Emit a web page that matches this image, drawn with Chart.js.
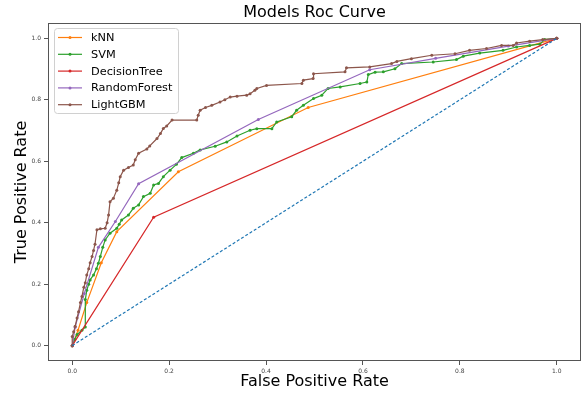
<!DOCTYPE html>
<html>
<head>
<meta charset="utf-8">
<script src="https://cdn.jsdelivr.net/npm/chart.js@4.4.0/dist/chart.umd.min.js"></script>
<style>
  html, body { margin: 0; padding: 0; background: #fff; overflow: hidden; }
  #wrap { width: 581px; height: 394px; }
</style>
</head>
<body>
<div id="wrap"><canvas id="roc"></canvas></div>
<script>
// ===== data =====
const knnFpr = [0, 0.012, 0.03, 0.06, 0.092, 0.219, 0.487, 1];
const knnTpr = [0, 0.05, 0.14, 0.27, 0.371, 0.566, 0.775, 1];

const svmFpr = [0, 0.005, 0.01, 0.02, 0.027, 0.027, 0.03, 0.034, 0.037, 0.044, 0.05, 0.054, 0.058, 0.063, 0.068, 0.078, 0.092, 0.097, 0.102, 0.116, 0.126, 0.137, 0.147, 0.161, 0.168, 0.178, 0.188, 0.202, 0.215, 0.226, 0.25, 0.264, 0.295, 0.319, 0.34, 0.367, 0.381, 0.412, 0.422, 0.453, 0.463, 0.477, 0.498, 0.515, 0.528, 0.553, 0.594, 0.608, 0.611, 0.625, 0.642, 0.666, 0.68, 0.745, 0.793, 0.807, 0.841, 0.889, 0.917, 0.944, 0.965, 0.975, 1];
const svmTpr = [0, 0.02, 0.036, 0.05, 0.061, 0.15, 0.18, 0.2, 0.214, 0.23, 0.25, 0.268, 0.29, 0.32, 0.344, 0.366, 0.382, 0.395, 0.409, 0.425, 0.447, 0.458, 0.485, 0.496, 0.523, 0.528, 0.55, 0.571, 0.59, 0.612, 0.626, 0.637, 0.649, 0.663, 0.682, 0.701, 0.706, 0.706, 0.728, 0.745, 0.766, 0.782, 0.804, 0.815, 0.837, 0.842, 0.853, 0.858, 0.882, 0.89, 0.891, 0.901, 0.918, 0.923, 0.931, 0.942, 0.952, 0.961, 0.972, 0.977, 0.981, 0.996, 1];

const dtFpr = [0, 0.168, 1];
const dtTpr = [0, 0.418, 1];

const rfFpr = [0, 0.006, 0.025, 0.054, 0.089, 0.137, 0.384, 0.614, 0.75, 0.9, 1];
const rfTpr = [0, 0.06, 0.17, 0.32, 0.404, 0.527, 0.736, 0.898, 0.935, 0.975, 1];

const lgbFpr = [0, 0, 0.003, 0.006, 0.01, 0.013, 0.017, 0.02, 0.024, 0.027, 0.03, 0.034, 0.037, 0.041, 0.044, 0.047, 0.051, 0.058, 0.068, 0.072, 0.075, 0.078, 0.085, 0.092, 0.096, 0.099, 0.106, 0.116, 0.126, 0.13, 0.137, 0.154, 0.16, 0.175, 0.182, 0.188, 0.195, 0.206, 0.257, 0.26, 0.264, 0.275, 0.288, 0.305, 0.315, 0.326, 0.34, 0.36, 0.367, 0.377, 0.381, 0.401, 0.474, 0.477, 0.497, 0.498, 0.563, 0.566, 0.614, 0.659, 0.67, 0.7, 0.742, 0.79, 0.82, 0.855, 0.886, 0.91, 0.917, 0.944, 0.971, 1];
const lgbTpr = [0, 0.03, 0.045, 0.063, 0.09, 0.11, 0.14, 0.16, 0.19, 0.205, 0.23, 0.25, 0.27, 0.29, 0.31, 0.33, 0.377, 0.38, 0.382, 0.4, 0.425, 0.468, 0.48, 0.506, 0.53, 0.55, 0.571, 0.58, 0.588, 0.605, 0.626, 0.64, 0.65, 0.674, 0.69, 0.707, 0.715, 0.734, 0.734, 0.75, 0.766, 0.775, 0.782, 0.793, 0.8, 0.809, 0.812, 0.815, 0.82, 0.831, 0.837, 0.847, 0.853, 0.864, 0.869, 0.885, 0.891, 0.904, 0.907, 0.918, 0.925, 0.934, 0.945, 0.95, 0.961, 0.967, 0.977, 0.977, 0.985, 0.991, 0.996, 1];

const diagFpr = [0, 1];
const diagTpr = [0, 1];

const modelNames = ["kNN", "SVM", "DecisionTree", "RandomForest", "LightGBM"];
const modelColors = ["#ff7f0e", "#2ca02c", "#d62728", "#9467bd", "#8c564b"];
const tickValues = [0, 0.2, 0.4, 0.6, 0.8, 1.0];

// ===== helpers =====
function toPoints(xs, ys) {
  return xs.map((x, i) => ({ x: x, y: ys[i] }));
}

const FONT = "'DejaVu Sans', sans-serif";
const curves = [[knnFpr, knnTpr], [svmFpr, svmTpr], [dtFpr, dtTpr], [rfFpr, rfTpr], [lgbFpr, lgbTpr]];

const datasets = curves.map((c, i) => ({
  label: modelNames[i],
  data: toPoints(c[0], c[1]),
  showLine: true,
  borderColor: modelColors[i],
  backgroundColor: modelColors[i],
  borderWidth: 1.2,
  pointRadius: 1.5,
  pointBorderWidth: 0,
  order: 10 - i
}));

datasets.push({
  label: "diag",
  data: toPoints(diagFpr, diagTpr),
  showLine: true,
  borderColor: "#1f77b4",
  borderWidth: 1.2,
  borderDash: [3, 2],
  pointRadius: 0,
  order: 0
});

// box around the plot area (matplotlib spines)
const frame = {
  id: "frame",
  afterDraw(chart) {
    const a = chart.chartArea, ctx = chart.ctx;
    ctx.save();
    ctx.strokeStyle = "#555";
    ctx.lineWidth = 1;
    ctx.strokeRect(a.left + 0.5, a.top + 0.5, a.right - a.left - 1, a.bottom - a.top - 1);
    ctx.restore();
  }
};

// legend inside the plot, upper left
const innerLegend = {
  id: "innerLegend",
  afterDraw(chart) {
    const ctx = chart.ctx;
    const bx = 54, by = 28, bw = 124, bh = 85;
    ctx.save();
    ctx.fillStyle = "rgba(255,255,255,0.85)";
    ctx.strokeStyle = "#d0d0d0";
    ctx.lineWidth = 1;
    ctx.beginPath();
    ctx.roundRect(bx + 0.5, by + 0.5, bw, bh, 3);
    ctx.fill();
    ctx.stroke();
    ctx.font = "11.3px " + FONT;
    ctx.textBaseline = "middle";
    modelNames.forEach((name, i) => {
      const y = 37.5 + i * 16.8;
      ctx.strokeStyle = modelColors[i];
      ctx.lineWidth = 1.2;
      ctx.beginPath();
      ctx.moveTo(58, y);
      ctx.lineTo(82, y);
      ctx.stroke();
      ctx.fillStyle = modelColors[i];
      ctx.beginPath();
      ctx.arc(70, y, 1.5, 0, Math.PI * 2);
      ctx.fill();
      ctx.fillStyle = "#000";
      ctx.fillText(name, 91, y + 0.5);
    });
    ctx.restore();
  }
};

function setTicks(scale) {
  scale.ticks = tickValues.map(v => ({ value: v }));
}

new Chart(document.getElementById("roc"), {
  type: "scatter",
  data: { datasets: datasets },
  options: {
    responsive: true,
    maintainAspectRatio: false,
    animation: false,
    // no extra room for point overflow, the plot runs to the right edge
    layout: { autoPadding: false, padding: 0 },
    plugins: {
      legend: { display: false },
      tooltip: { enabled: false },
      title: {
        display: true,
        text: "Models Roc Curve",
        fullSize: false,
        color: "#000",
        font: { family: FONT, size: 16, weight: "normal" },
        padding: { top: 3.5, bottom: 0.3 }
      }
    },
    scales: {
      x: {
        type: "linear",
        min: -0.05,
        max: 1.05,
        afterBuildTicks: setTicks,
        afterFit: s => { s.height = 33; s.paddingLeft = 0; s.paddingRight = 0; },
        grid: { drawOnChartArea: false, tickLength: 4, color: "#555" },
        border: { display: false },
        ticks: {
          color: "#444",
          padding: 3,
          maxRotation: 0,
          font: { family: FONT, size: 6 },
          callback: v => Number(v).toFixed(1)
        },
        title: {
          display: true,
          text: "False Positive Rate",
          color: "#000",
          font: { family: FONT, size: 16 },
          padding: { top: 0, bottom: 2.5 }
        }
      },
      y: {
        type: "linear",
        min: -0.05,
        max: 1.05,
        afterBuildTicks: setTicks,
        afterFit: s => { s.width = 48; },
        grid: { drawOnChartArea: false, tickLength: 4, color: "#555" },
        border: { display: false },
        ticks: {
          color: "#444",
          padding: 3,
          font: { family: FONT, size: 6 },
          callback: v => Number(v).toFixed(1)
        },
        title: {
          display: true,
          text: "True Positive Rate",
          color: "#000",
          font: { family: FONT, size: 16 },
          padding: { top: 12.5, bottom: 0 }
        }
      }
    }
  },
  plugins: [frame, innerLegend]
});
</script>
</body>
</html>
